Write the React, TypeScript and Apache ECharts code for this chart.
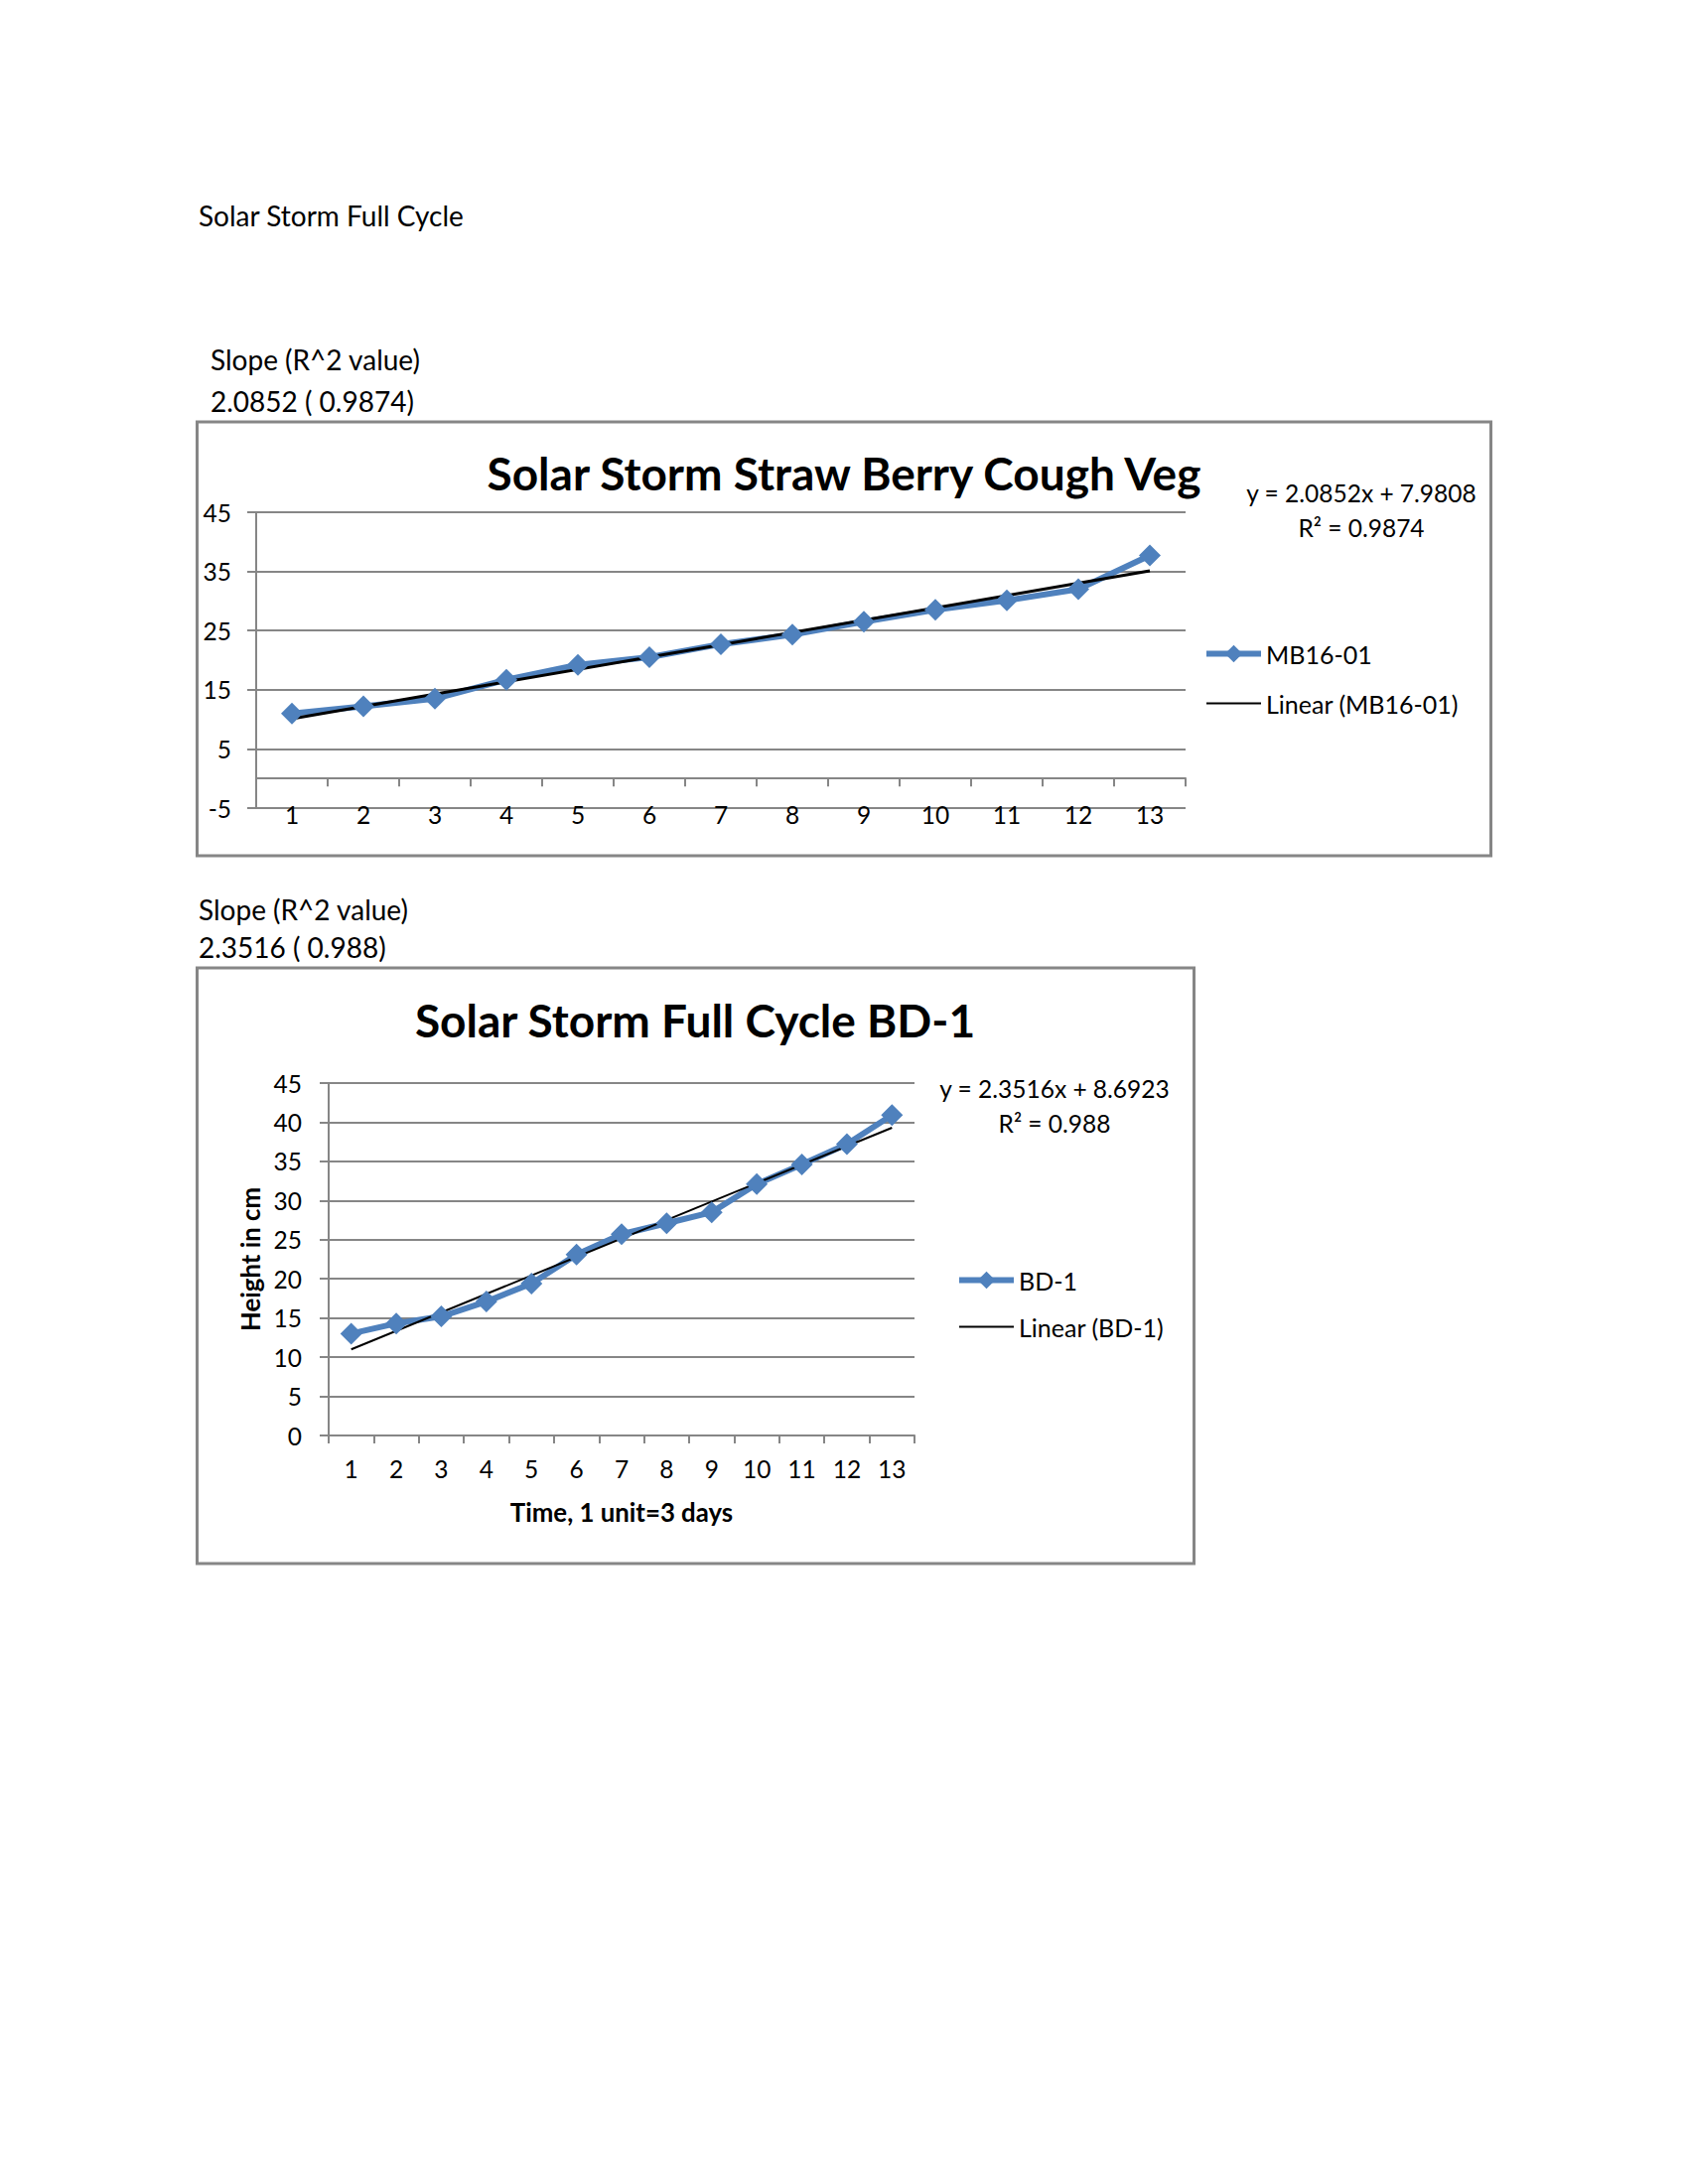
import React, { useEffect, useRef } from 'react';
import * as echarts from 'echarts';

// ---------- data ----------
const PAGE_HEADING = 'Solar Storm Full Cycle';

const CATEGORIES = ['1', '2', '3', '4', '5', '6', '7', '8', '9', '10', '11', '12', '13'];

// Chart 1
const CHART1_TITLE = 'Solar Storm Straw Berry Cough Veg';
const CHART1_NOTE = ['Slope (R^2 value)', '2.0852 ( 0.9874)'];
const CHART1_EQUATION = ['y = 2.0852x + 7.9808', 'R\u00B2 = 0.9874'];
const MB16_NAME = 'MB16-01';
const MB16_TREND_NAME = 'Linear (MB16-01)';
const MB16_VALUES = [11.0, 12.2, 13.5, 16.7, 19.2, 20.5, 22.7, 24.3, 26.5, 28.5, 30.1, 32.0, 37.7];
const MB16_TREND_ENDS = [10.1, 35.1]; // trendline value at first and last category
const Y1_TICKS = [-5, 5, 15, 25, 35, 45];

// Chart 2
const CHART2_TITLE = 'Solar Storm Full Cycle BD-1';
const CHART2_NOTE = ['Slope (R^2 value)', '2.3516 ( 0.988)'];
const CHART2_EQUATION = ['y = 2.3516x + 8.6923', 'R\u00B2 = 0.988'];
const BD1_NAME = 'BD-1';
const BD1_TREND_NAME = 'Linear (BD-1)';
const BD1_VALUES = [13.0, 14.3, 15.2, 17.1, 19.4, 23.1, 25.7, 27.1, 28.5, 32.1, 34.6, 37.2, 40.9];
const BD1_TREND_ENDS = [11.0, 39.3];
const X2_NAME = 'Time, 1 unit=3 days';
const Y2_NAME = 'Height in cm';

// ---------- styles ----------
const FONT = 'Lato, "Open Sans", "Noto Sans", sans-serif';
const GRAY = '#868686';
const BLUE = '#4F81BD';
const TICK_FONT = 24.5;
const LEGEND_FONT = 25;
const BODY_FONT = 28;
const TITLE_FONT = 46;

function trendSeriesData(ends: number[]) {
  return CATEGORIES.map((_, i) => (i === 0 ? ends[0] : i === CATEGORIES.length - 1 ? ends[1] : null));
}

function txt(text: string, x: number, y: number, size: number, opts: any = {}) {
  return {
    type: 'text',
    x,
    y,
    silent: true,
    style: {
      text,
      fill: '#000',
      fontSize: size,
      fontFamily: FONT,
      fontWeight: opts.bold ? 'bold' : 'normal',
      align: opts.align || 'left',
      textAlign: opts.align || 'left',
      verticalAlign: 'middle',
      textVerticalAlign: 'middle',
    },
  };
}

function box(x: number, y: number, w: number, h: number) {
  return {
    type: 'rect',
    silent: true,
    z: -1,
    shape: { x, y, width: w, height: h },
    style: { fill: 'none', stroke: GRAY, lineWidth: 3 },
  };
}

const axisLineStyle = { color: GRAY, width: 2 };

function legendItems(dataName: string, trendName: string) {
  return [
    { name: dataName, lineStyle: { width: 6, color: BLUE } },
    { name: trendName, lineStyle: { width: 2, color: '#000' }, itemStyle: { opacity: 0 } },
  ];
}

export default function App() {
  const ref = useRef<HTMLDivElement>(null);

  useEffect(() => {
    if (!ref.current) return;
    const chart = echarts.init(ref.current, undefined, { renderer: 'svg' });

    const option: any = {
      animation: false,
      textStyle: { fontFamily: FONT },
      grid: [
        { left: 258, top: 516, width: 936, height: 298 },
        { left: 331, top: 1091, width: 590, height: 355 },
      ],
      xAxis: [
        {
          gridIndex: 0,
          type: 'category',
          data: CATEGORIES,
          position: 'bottom',
          axisLine: { show: false, onZero: false },
          axisTick: { show: false },
          axisLabel: { margin: -6, fontSize: TICK_FONT, color: '#000', fontFamily: FONT },
        },
        {
          gridIndex: 0,
          type: 'category',
          data: CATEGORIES,
          position: 'bottom',
          axisLine: { show: true, onZero: true, lineStyle: axisLineStyle },
          axisTick: { show: true, length: 8, inside: false, lineStyle: axisLineStyle },
          axisLabel: { show: false },
        },
        {
          gridIndex: 1,
          type: 'category',
          data: CATEGORIES,
          position: 'bottom',
          axisLine: { show: true, lineStyle: axisLineStyle },
          axisTick: { show: true, length: 8, lineStyle: axisLineStyle },
          axisLabel: { margin: 21, fontSize: TICK_FONT, color: '#000', fontFamily: FONT },
          name: X2_NAME,
          nameLocation: 'middle',
          nameGap: 64,
          nameTextStyle: { fontSize: 25.8, fontWeight: 'bold', color: '#000', fontFamily: FONT },
        },
      ],
      yAxis: [
        {
          gridIndex: 0,
          type: 'value',
          min: -5,
          max: 45,
          axisLine: { show: true, lineStyle: axisLineStyle },
          axisTick: { show: true, length: 9, customValues: Y1_TICKS, lineStyle: axisLineStyle },
          axisLabel: { customValues: Y1_TICKS, margin: 25, fontSize: TICK_FONT, color: '#000', fontFamily: FONT },
          splitLine: { show: true, lineStyle: axisLineStyle },
        },
        {
          gridIndex: 1,
          type: 'value',
          min: 0,
          max: 45,
          interval: 5,
          axisLine: { show: true, lineStyle: axisLineStyle },
          axisTick: { show: true, length: 9, lineStyle: axisLineStyle },
          axisLabel: { margin: 27, fontSize: TICK_FONT, color: '#000', fontFamily: FONT },
          splitLine: { show: true, lineStyle: axisLineStyle },
          name: Y2_NAME,
          nameLocation: 'middle',
          nameRotate: 90,
          nameGap: 66,
          nameTextStyle: { fontSize: 25.8, fontWeight: 'bold', color: '#000', fontFamily: FONT },
        },
      ],
      legend: [
        {
          orient: 'vertical',
          left: 1207,
          top: 641,
          itemWidth: 55,
          itemHeight: 22,
          itemGap: 25,
          data: legendItems(MB16_NAME, MB16_TREND_NAME),
          textStyle: { fontSize: LEGEND_FONT, color: '#000', fontFamily: FONT },
          selectedMode: false,
        },
        {
          orient: 'vertical',
          left: 958,
          top: 1272,
          itemWidth: 55,
          itemHeight: 22,
          itemGap: 22,
          data: legendItems(BD1_NAME, BD1_TREND_NAME),
          textStyle: { fontSize: LEGEND_FONT, color: '#000', fontFamily: FONT },
          selectedMode: false,
        },
      ],
      series: [
        {
          name: MB16_NAME,
          type: 'line',
          xAxisIndex: 0,
          yAxisIndex: 0,
          data: MB16_VALUES,
          symbol: 'diamond',
          symbolSize: 22,
          lineStyle: { width: 6, color: BLUE },
          itemStyle: { color: BLUE },
        },
        {
          name: MB16_TREND_NAME,
          type: 'line',
          xAxisIndex: 0,
          yAxisIndex: 0,
          data: trendSeriesData(MB16_TREND_ENDS),
          connectNulls: true,
          symbol: 'none',
          lineStyle: { width: 3, color: '#000' },
          itemStyle: { color: '#000' },
        },
        {
          name: BD1_NAME,
          type: 'line',
          xAxisIndex: 2,
          yAxisIndex: 1,
          data: BD1_VALUES,
          symbol: 'diamond',
          symbolSize: 22,
          lineStyle: { width: 6, color: BLUE },
          itemStyle: { color: BLUE },
        },
        {
          name: BD1_TREND_NAME,
          type: 'line',
          xAxisIndex: 2,
          yAxisIndex: 1,
          data: trendSeriesData(BD1_TREND_ENDS),
          connectNulls: true,
          symbol: 'none',
          lineStyle: { width: 2, color: '#000' },
          itemStyle: { color: '#000' },
        },
      ],
      graphic: [
        txt(PAGE_HEADING, 200, 217, BODY_FONT),
        txt(CHART1_NOTE[0], 212, 362, BODY_FONT),
        txt(CHART1_NOTE[1], 212, 404, BODY_FONT),
        box(198.5, 425, 1303, 437),
        txt(CHART1_TITLE, 850, 476, TITLE_FONT, { bold: true, align: 'center' }),
        txt(CHART1_EQUATION[0], 1371, 496, TICK_FONT, { align: 'center' }),
        txt(CHART1_EQUATION[1], 1371, 531, TICK_FONT, { align: 'center' }),
        txt(CHART2_NOTE[0], 200, 916, BODY_FONT),
        txt(CHART2_NOTE[1], 200, 954, BODY_FONT),
        box(198.5, 975, 1004, 600),
        txt(CHART2_TITLE, 700, 1027, TITLE_FONT, { bold: true, align: 'center' }),
        txt(CHART2_EQUATION[0], 1062, 1096, TICK_FONT, { align: 'center' }),
        txt(CHART2_EQUATION[1], 1062, 1131, TICK_FONT, { align: 'center' }),
      ],
    };

    chart.setOption(option);
    return () => chart.dispose();
  }, []);

  return (
    <div
      ref={ref}
      style={{ position: 'absolute', left: 0, top: 0, width: 1700, height: 2200, background: '#fff' }}
    />
  );
}
